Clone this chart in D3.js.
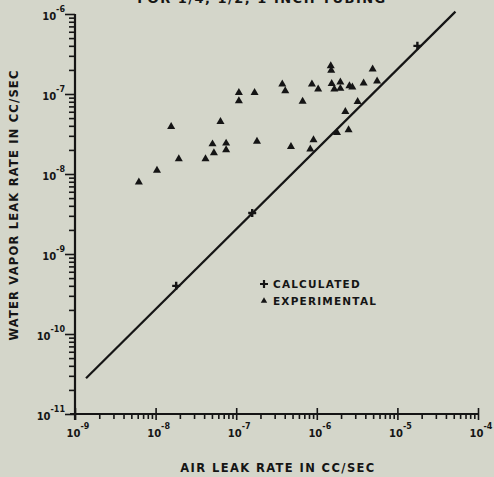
<!DOCTYPE html>
<html>
<head>
<meta charset="utf-8">
<script src="https://cdn.jsdelivr.net/npm/d3@7"></script>
<style>
  html, body { margin: 0; padding: 0; background: #d4d6ca; }
  svg { display: block; }
  text { font-family: "DejaVu Sans", "Liberation Sans", sans-serif; font-weight: bold; fill: #151515; }
</style>
</head>
<body>
<svg id="chart" width="494" height="477"></svg>
<script>
// Calculated leak rates, cc/sec
const calcAir   = [1.8e-8, 1.58e-7, 1.77e-5];
const calcWater = [4.0e-10, 3.25e-9, 4.0e-7];

// Experimental leak rates, cc/sec
const expAir = [
  6.2e-9, 1.04e-8, 1.56e-8, 1.94e-8, 4.16e-8, 5.08e-8, 5.29e-8, 6.38e-8, 7.5e-8, 7.5e-8,
  1.08e-7, 1.08e-7, 1.69e-7, 1.81e-7, 3.73e-7, 4.06e-7, 4.78e-7, 6.67e-7, 8.7e-7, 1.04e-6,
  8.3e-7, 9.1e-7, 1.49e-6, 1.51e-6, 1.53e-6, 1.65e-6, 1.96e-6, 1.96e-6, 2.54e-6, 2.76e-6,
  3.81e-6, 4.93e-6, 5.6e-6, 2.26e-6, 3.21e-6, 2.48e-6, 1.78e-6
];
const expWater = [
  7.9e-9, 1.11e-8, 3.9e-8, 1.54e-8, 1.54e-8, 2.37e-8, 1.83e-8, 4.5e-8, 2.42e-8, 2.0e-8,
  1.04e-7, 8.2e-8, 1.04e-7, 2.56e-8, 1.33e-7, 1.09e-7, 2.19e-8, 8.1e-8, 1.33e-7, 1.15e-7,
  2.04e-8, 2.66e-8, 2.24e-7, 1.97e-7, 1.35e-7, 1.15e-7, 1.41e-7, 1.17e-7, 1.26e-7, 1.22e-7,
  1.37e-7, 2.05e-7, 1.45e-7, 6.0e-8, 8.0e-8, 3.55e-8, 3.28e-8
];

// Correlation line end points, cc/sec
const lineAir   = [1.37e-9, 5.25e-5];
const lineWater = [2.8e-11, 1.07e-6];

// Decade exponents used for the axis ticks and labels
const xDecades = [-9, -8, -7, -6, -5, -4];
const yDecades = [-11, -10, -9, -8, -7, -6];

const titleText  = "FOR 1/4, 1/2, 1 INCH TUBING";
const xAxisTitle = "AIR LEAK RATE IN CC/SEC";
const yAxisTitle = "WATER VAPOR LEAK RATE IN CC/SEC";
const legendLabels = ["CALCULATED", "EXPERIMENTAL"];

const svg = d3.select("#chart");
const ink = "#151515";

const x = d3.scaleLog().domain([1e-9, 1e-4]).range([75, 478]);
const y = d3.scaleLog().domain([1e-11, 1e-6]).range([414, 14]);

// minor ticks 2..9 within each decade
function minors(decades) {
  const out = [];
  for (let i = 0; i < decades.length - 1; i++)
    for (let m = 2; m <= 9; m++) out.push(m * Math.pow(10, decades[i]));
  return out;
}
const xMinor = minors(xDecades);
const yMinor = minors(yDecades);
const xMajor = xDecades.map(d => Math.pow(10, d));
const yMajor = yDecades.map(d => Math.pow(10, d));

// heading running off the top edge of the page
svg.append("text")
  .attr("x", 262).attr("y", 3)
  .attr("text-anchor", "middle")
  .attr("font-size", 13)
  .attr("letter-spacing", 1.5)
  .text(titleText);

const y0 = y(1e-11), x0 = x(1e-9);

// x axis: minor ticks hang below, decade ticks cross the line
const gx = svg.append("g").attr("transform", `translate(0,${y0})`);
gx.call(d3.axisBottom(x).tickValues(xMinor).tickSize(5).tickFormat(""));
gx.append("g").call(d3.axisBottom(x).tickValues(xMajor).tickSize(6).tickFormat(""));
gx.append("g").call(d3.axisTop(x).tickValues(xMajor).tickSize(6).tickFormat(""));
gx.selectAll("path.domain").remove();
gx.selectAll("line").attr("stroke", ink).attr("stroke-width", 1.6);

// y axis: ticks point left
const gy = svg.append("g").attr("transform", `translate(${x0},0)`);
gy.call(d3.axisLeft(y).tickValues(yMinor).tickSize(6).tickFormat(""));
gy.append("g").call(d3.axisLeft(y).tickValues(yMajor).tickSize(10).tickFormat(""));
gy.selectAll("path.domain").remove();
gy.selectAll("line").attr("stroke", ink).attr("stroke-width", 1.6);

// axis lines
svg.append("line").attr("x1", x0 - 5).attr("x2", x(1e-4)).attr("y1", y0).attr("y2", y0)
  .attr("stroke", ink).attr("stroke-width", 2.2);
svg.append("line").attr("x1", x0).attr("x2", x0).attr("y1", y(1e-6)).attr("y2", y0 + 6)
  .attr("stroke", ink).attr("stroke-width", 2.2);

// tick labels: 10 with superscript exponent
svg.append("g").selectAll("text").data(xDecades).join("text")
  .attr("x", d => x(Math.pow(10, d)) + 3)
  .attr("y", y0 + 23)
  .attr("text-anchor", "middle")
  .attr("font-size", 10)
  .each(function (d) {
    const t = d3.select(this);
    t.append("tspan").text("10");
    t.append("tspan").attr("dy", -8).attr("font-size", 8).text(String(d));
  });

svg.append("g").selectAll("text").data(yDecades).join("text")
  .attr("x", 65)
  .attr("y", d => y(Math.pow(10, d)) + 6)
  .attr("text-anchor", "end")
  .attr("font-size", 10)
  .each(function (d) {
    const t = d3.select(this);
    t.append("tspan").text("10");
    t.append("tspan").attr("dy", -8).attr("font-size", 8).text(String(d));
  });

// axis titles
svg.append("text")
  .attr("x", 278).attr("y", 472)
  .attr("text-anchor", "middle")
  .attr("font-size", 11.5)
  .attr("letter-spacing", 1.4)
  .text(xAxisTitle);

svg.append("text")
  .attr("transform", "translate(18,205) rotate(-90)")
  .attr("text-anchor", "middle")
  .attr("font-size", 11.5)
  .attr("letter-spacing", 1.2)
  .text(yAxisTitle);

// correlation line
svg.append("path")
  .datum(d3.zip(lineAir, lineWater))
  .attr("d", d3.line().x(d => x(d[0])).y(d => y(d[1])))
  .attr("fill", "none")
  .attr("stroke", ink)
  .attr("stroke-width", 2.2);

// marker shapes
const tri = d3.symbol(d3.symbolTriangle, 28)();
const plusPath = "M-4,0H4M0,-4V4";

// experimental points
svg.append("g").selectAll("path").data(d3.zip(expAir, expWater)).join("path")
  .attr("transform", d => `translate(${x(d[0])},${y(d[1])})`)
  .attr("d", tri)
  .attr("fill", ink);

// calculated points
svg.append("g").selectAll("path").data(d3.zip(calcAir, calcWater)).join("path")
  .attr("transform", d => `translate(${x(d[0])},${y(d[1])})`)
  .attr("d", plusPath)
  .attr("stroke", ink)
  .attr("stroke-width", 2.4);

// legend
const lg = svg.append("g");
lg.append("path").attr("transform", "translate(264,284)").attr("d", plusPath)
  .attr("stroke", ink).attr("stroke-width", 2.2);
lg.append("path").attr("transform", "translate(264,301)").attr("d", d3.symbol(d3.symbolTriangle, 18)())
  .attr("fill", ink);
lg.selectAll("text").data(legendLabels).join("text")
  .attr("x", 273)
  .attr("y", (d, i) => 288 + i * 17)
  .attr("font-size", 10.5)
  .attr("letter-spacing", 1.2)
  .text(d => d);
</script>
</body>
</html>
